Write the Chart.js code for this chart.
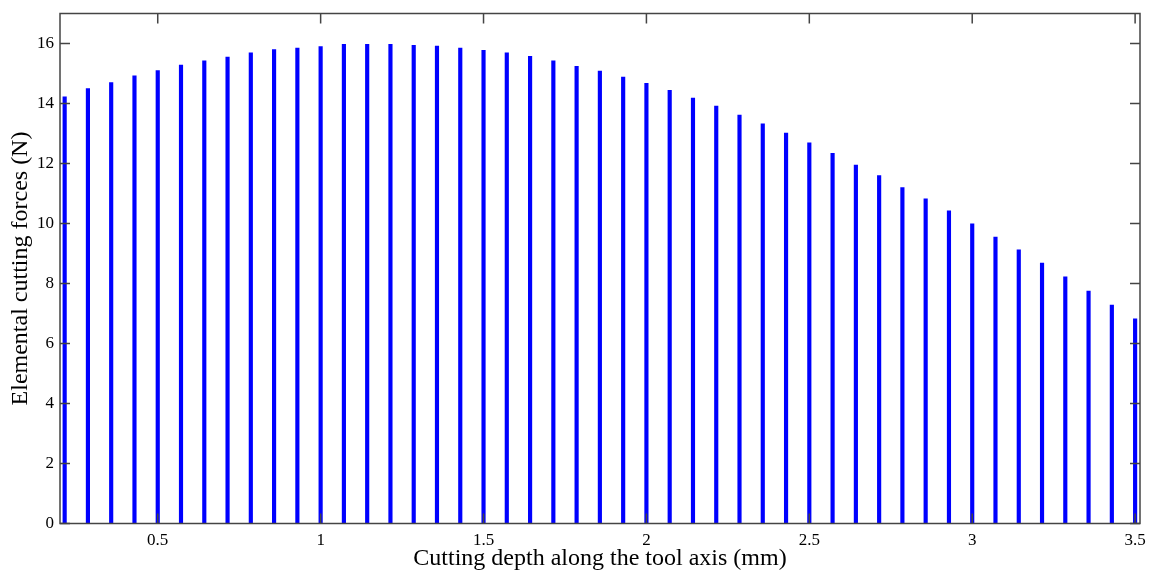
<!DOCTYPE html>
<html lang="en">
<head>
    <meta charset="UTF-8">
    <title>Elemental cutting forces</title>
    <style>
        html, body { margin: 0; padding: 0; background: #fff; }
        .chart-container { width: 1151px; height: 572px; }
    </style>
</head>
<body>
    <div class="chart-container">
        <canvas id="forceChart"></canvas>
    </div>

    <script src="https://cdn.jsdelivr.net/npm/chart.js"></script>
    <script>
        // cutting depth (mm), one element every 1/14 mm
        const depths = [
            0.2143, 0.2857, 0.3571, 0.4286, 0.5, 0.5714, 0.6429, 0.7143, 0.7857, 0.8571,
            0.9286, 1.0, 1.0714, 1.1429, 1.2143, 1.2857, 1.3571, 1.4286, 1.5, 1.5714,
            1.6429, 1.7143, 1.7857, 1.8571, 1.9286, 2.0, 2.0714, 2.1429, 2.2143, 2.2857,
            2.3571, 2.4286, 2.5, 2.5714, 2.6429, 2.7143, 2.7857, 2.8571, 2.9286, 3.0,
            3.0714, 3.1429, 3.2143, 3.2857, 3.3571, 3.4286, 3.5
        ];
        // elemental cutting force (N)
        const forces = [
            14.22, 14.50, 14.70, 14.92, 15.10, 15.28, 15.42, 15.55, 15.69, 15.80,
            15.85, 15.90, 15.97, 15.97, 15.97, 15.94, 15.91, 15.85, 15.77, 15.69,
            15.57, 15.42, 15.24, 15.08, 14.88, 14.67, 14.44, 14.18, 13.91, 13.61,
            13.32, 13.01, 12.69, 12.34, 11.95, 11.60, 11.20, 10.82, 10.42, 9.99,
            9.55, 9.12, 8.68, 8.22, 7.75, 7.28, 6.82
        ];
        const xTicks = [0.5, 1, 1.5, 2, 2.5, 3, 3.5];
        const yTicks = [0, 2, 4, 6, 8, 10, 12, 14, 16];

        const points = depths.map((d, i) => ({ x: d, y: forces[i] }));

        // box around the plot with inward ticks on every side
        const boxPlugin = {
            id: 'box',
            afterDraw(chart) {
                const { ctx, chartArea: a, scales } = chart;
                const len = 10;
                ctx.save();
                ctx.strokeStyle = '#444';
                ctx.lineWidth = 1.5;
                ctx.strokeRect(a.left, a.top, a.right - a.left, a.bottom - a.top);
                ctx.beginPath();
                xTicks.forEach(v => {
                    const px = scales.x.getPixelForValue(v);
                    ctx.moveTo(px, a.bottom); ctx.lineTo(px, a.bottom - len);
                    ctx.moveTo(px, a.top); ctx.lineTo(px, a.top + len);
                });
                yTicks.forEach(v => {
                    const py = scales.y.getPixelForValue(v);
                    ctx.moveTo(a.left, py); ctx.lineTo(a.left + len, py);
                    ctx.moveTo(a.right, py); ctx.lineTo(a.right - len, py);
                });
                ctx.stroke();
                ctx.restore();
            }
        };

        const font = { family: '"Liberation Serif", "DejaVu Serif", serif' };

        new Chart(document.getElementById('forceChart'), {
            type: 'bar',
            data: {
                datasets: [{
                    data: points,
                    backgroundColor: '#0000ff',
                    barThickness: 3.5
                }]
            },
            options: {
                responsive: true,
                maintainAspectRatio: false,
                animation: false,
                layout: { padding: { top: 13.5, right: 11, bottom: 0, left: 0 } },
                plugins: {
                    legend: { display: false },
                    tooltip: { enabled: false }
                },
                scales: {
                    x: {
                        type: 'linear',
                        offset: false,
                        min: 0.2,
                        max: 3.515,
                        afterFit(scale) {
                            scale.height = 48.5;
                            scale.paddingLeft = 0;
                            scale.paddingRight = 0;
                        },
                        afterBuildTicks(scale) { scale.ticks = xTicks.map(v => ({ value: v })); },
                        grid: { display: false, drawTicks: false, offset: false },
                        border: { display: false },
                        ticks: {
                            padding: 7,
                            color: '#000',
                            font: { ...font, size: 17 },
                            callback: v => `${v}`
                        },
                        title: {
                            display: true,
                            text: 'Cutting depth along the tool axis (mm)',
                            color: '#000',
                            font: { ...font, size: 24 },
                            padding: { top: 0, bottom: -1 }
                        }
                    },
                    y: {
                        min: 0,
                        max: 17,
                        afterFit(scale) {
                            scale.width = 60;
                            scale.paddingTop = 0;
                            scale.paddingBottom = 0;
                        },
                        afterBuildTicks(scale) { scale.ticks = yTicks.map(v => ({ value: v })); },
                        grid: { display: false, drawTicks: false },
                        border: { display: false },
                        ticks: {
                            padding: 6,
                            color: '#000',
                            font: { ...font, size: 17 }
                        },
                        title: {
                            display: true,
                            text: 'Elemental cutting forces (N)',
                            color: '#000',
                            font: { ...font, size: 24 },
                            padding: { top: 6, bottom: 0 }
                        }
                    }
                }
            },
            plugins: [boxPlugin]
        });
    </script>
</body>
</html>
